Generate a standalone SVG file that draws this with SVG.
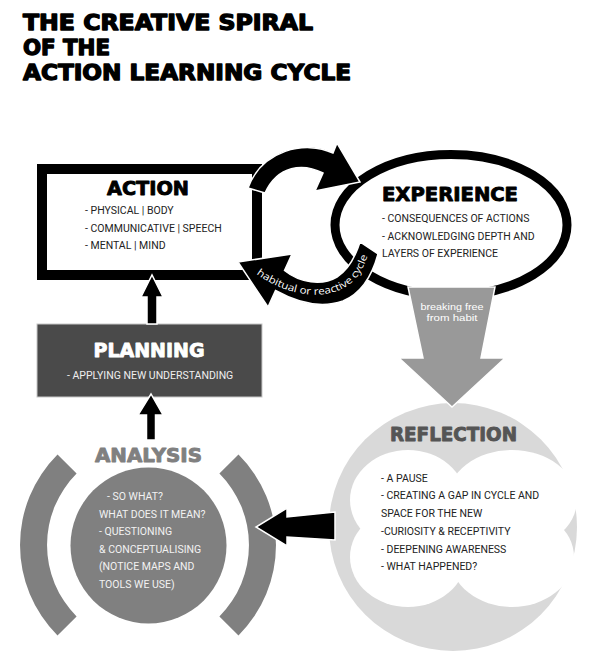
<svg xmlns="http://www.w3.org/2000/svg" width="589" height="672" viewBox="0 0 589 672">
<style>
.h{font-family:"DejaVu Sans","Liberation Sans",sans-serif;font-weight:700;stroke-width:0.9;stroke-linejoin:round}
.t{font-family:"DejaVu Sans","Liberation Sans",sans-serif;font-weight:700;font-size:21px;stroke-width:1.3;stroke-linejoin:round}
.b{font-family:Roboto,"Liberation Sans",sans-serif;font-size:10.5px}
.ar{fill:#000;stroke:#fff;stroke-width:1.5;stroke-linejoin:miter}
</style>
<defs>
<path id="cyclePath" d="M 254,272 C 285,297 334,305 357,277 C 362,271 365,263 368,255"/>
</defs>
<rect width="589" height="672" fill="#fff"/>
<g id="title" fill="#000" stroke="#000">
<text class="t" x="23" y="30" textLength="290" lengthAdjust="spacingAndGlyphs">THE CREATIVE SPIRAL</text>
<text class="t" x="23" y="55" textLength="87" lengthAdjust="spacingAndGlyphs">OF THE</text>
<text class="t" x="23" y="80" textLength="328" lengthAdjust="spacingAndGlyphs">ACTION LEARNING CYCLE</text>
</g>
<g id="action">
<rect x="42" y="169" width="215" height="106" fill="#fff" stroke="#000" stroke-width="10"/>
<text class="h" x="148" y="195" font-size="19" text-anchor="middle" fill="#000" stroke="#000" textLength="82" lengthAdjust="spacingAndGlyphs">ACTION</text>
<text class="b" x="85" y="214" fill="#222">- PHYSICAL | BODY</text>
<text class="b" x="85" y="232" fill="#222">- COMMUNICATIVE | SPEECH</text>
<text class="b" x="85" y="249" fill="#222">- MENTAL | MIND</text>
</g>
<g id="experience">
<ellipse cx="451" cy="225" rx="116" ry="70.5" fill="#fff" stroke="#000" stroke-width="9"/>
<text class="h" x="382" y="201" font-size="19" fill="#000" stroke="#000" textLength="136" lengthAdjust="spacingAndGlyphs">EXPERIENCE</text>
<text class="b" x="382" y="222" fill="#222">- CONSEQUENCES OF ACTIONS</text>
<text class="b" x="382" y="240" fill="#222">- ACKNOWLEDGING DEPTH AND</text>
<text class="b" x="382" y="257" fill="#222">LAYERS OF EXPERIENCE</text>
</g>
<g id="planning">
<rect x="37" y="324" width="225" height="73" fill="#4a4a4a" stroke="#c8c8c8" stroke-width="1"/>
<text class="h" x="149" y="357" font-size="19" text-anchor="middle" fill="#fff" stroke="#fff" textLength="111" lengthAdjust="spacingAndGlyphs">PLANNING</text>
<text class="b" x="67" y="379" fill="#eee">- APPLYING NEW UNDERSTANDING</text>
</g>
<g id="analysis">
<path d="M 57.5,454.5 A 128 128 0 0 0 57.5,635.5 L 76.6,616.4 A 101 101 0 0 1 76.6,473.6 Z" fill="#808080"/>
<path d="M 238.5,454.5 A 128 128 0 0 1 238.5,635.5 L 219.4,616.4 A 101 101 0 0 0 219.4,473.6 Z" fill="#808080"/>
<circle cx="148.5" cy="545.5" r="78" fill="#808080"/>
<text class="h" x="148.5" y="462" font-size="19" text-anchor="middle" fill="#808080" stroke="#808080" textLength="107" lengthAdjust="spacingAndGlyphs">ANALYSIS</text>
<g class="b" fill="#f2f2f2">
<text x="107" y="500">- SO WHAT?</text>
<text x="99" y="518">WHAT DOES IT MEAN?</text>
<text x="99" y="535">- QUESTIONING</text>
<text x="99" y="553">&amp; CONCEPTUALISING</text>
<text x="99" y="570">(NOTICE MAPS AND</text>
<text x="99" y="588">TOOLS WE USE)</text>
</g>
</g>
<g id="reflection">
<circle cx="453" cy="527" r="124" fill="#d9d9d9"/>
<g fill="#fff">
<ellipse cx="408" cy="500" rx="58" ry="50"/>
<ellipse cx="512" cy="500" rx="65" ry="50"/>
<ellipse cx="408" cy="557" rx="58" ry="50"/>
<ellipse cx="512" cy="557" rx="62" ry="50"/>
</g>
<text class="h" x="453.5" y="441" font-size="19" text-anchor="middle" fill="#555" stroke="#555" textLength="127" lengthAdjust="spacingAndGlyphs">REFLECTION</text>
<g class="b" fill="#222">
<text x="381" y="482">- A PAUSE</text>
<text x="381" y="499">- CREATING A GAP IN CYCLE AND</text>
<text x="381" y="517">SPACE FOR THE NEW</text>
<text x="381" y="535">-CURIOSITY &amp; RECEPTIVITY</text>
<text x="381" y="553">- DEEPENING AWARENESS</text>
<text x="381" y="570">- WHAT HAPPENED?</text>
</g>
</g>
<g id="connectors">
<path class="ar" d="M 248,188 C 262,150 305,140 333,153 L 337,143 L 360,182 L 315,191 L 323,173 C 303,163 278,165 265,193 Z"/>
<path class="ar" d="M 238,262 L 292,254 L 284.5,270.5 C 300,283 322,286 337,277 C 348,270 355,258 360,242 L 378,254 C 372,276 362,293 343,301 C 320,309 298,303 275.5,290.5 L 268,307 Z"/>
<text font-family="'Open Sans','Noto Sans',sans-serif" font-size="10" fill="#fff"><textPath href="#cyclePath" startOffset="3" textLength="134" lengthAdjust="spacingAndGlyphs">habitual or reactive cycle</textPath></text>
<path class="ar" d="M 147,324 L 147,297 L 141,297 L 152,275 L 163,297 L 157,297 L 157,324 Z"/>
<path class="ar" d="M 146.5,440 L 146.5,415 L 138,415 L 151,394 L 163,415 L 155.5,415 L 155.5,440 Z"/>
<path d="M 408,287 L 495,287 L 481,358 L 505,358 L 452,407 L 399,358 L 423,358 Z" fill="#999" stroke="#fff" stroke-width="1.5"/>
<text font-family="'Liberation Sans',Arial,sans-serif" font-size="9.8" fill="#fff" text-anchor="middle"><tspan x="452" y="309.5" textLength="63" lengthAdjust="spacingAndGlyphs">breaking free</tspan><tspan x="452" y="320.5" textLength="51" lengthAdjust="spacingAndGlyphs">from habit</tspan></text>
<path class="ar" d="M 335,512 L 287,517 L 287,508 L 256,527 L 287,546 L 287,537 L 335,540 Z"/>
</g>
</svg>
